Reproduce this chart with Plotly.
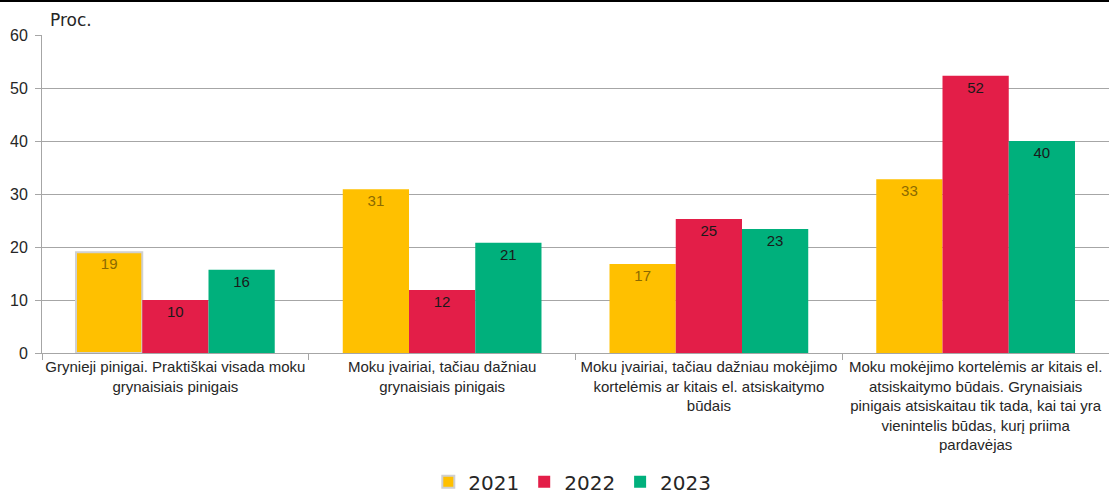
import plotly.graph_objects as go

categories = [
    "Grynieji pinigai. Praktiškai visada moku<br>grynaisiais pinigais",
    "Moku įvairiai, tačiau dažniau<br>grynaisiais pinigais",
    "Moku įvairiai, tačiau dažniau mokėjimo<br>kortelėmis ar kitais el. atsiskaitymo<br>būdais",
    "Moku mokėjimo kortelėmis ar kitais el.<br>atsiskaitymo būdais. Grynaisiais<br>pinigais atsiskaitau tik tada, kai tai yra<br>vienintelis būdas, kurį priima<br>pardavėjas",
]
series_names = ["2021", "2022", "2023"]
values_2021 = [19.0, 30.9, 16.8, 32.8]
values_2022 = [10.0, 11.9, 25.3, 52.3]
values_2023 = [15.7, 20.8, 23.4, 40.0]
y_ticks = [0, 10, 20, 30, 40, 50, 60]

colors = ["#FFC000", "#E31E48", "#00B07C"]
text_colors = ["#8C6A00", "#1a1a1a", "#1a1a1a"]
all_values = [values_2021, values_2022, values_2023]

fig = go.Figure()
for i, (name, vals) in enumerate(zip(series_names, all_values)):
    line_colors = [colors[i]] * len(vals)
    line_widths = [0] * len(vals)
    if i == 0:
        line_colors[0] = "#D0D0D0"
        line_widths[0] = 2
    fig.add_trace(go.Bar(
        name=name, x=categories, y=vals,
        marker=dict(color=colors[i], line=dict(color=line_colors, width=line_widths)),
        texttemplate="%{y:.0f}", textposition="inside", insidetextanchor="end",
        textangle=0,
        textfont=dict(family="Liberation Sans", size=15, color=text_colors[i]),
    ))

fig.update_layout(
    width=1109, height=495,
    margin=dict(l=42, r=0, t=35, b=142, autoexpand=False),
    paper_bgcolor="white", plot_bgcolor="white",
    barmode="group", bargap=0.255, bargroupgap=0,
    showlegend=True,
    legend=dict(orientation="h", x=0.497, xanchor="center", y=-0.405, yanchor="middle",
                font=dict(family="DejaVu Sans", size=20, color="#262626"),
                itemwidth=30, traceorder="normal"),
    font=dict(family="Liberation Sans", size=15, color="#262626"),
    uniformtext=dict(mode="show", minsize=10),
)
fig.update_xaxes(
    automargin=False,
    showline=True, linecolor="#A6A6A6", linewidth=1,
    ticks="outside", tickson="boundaries", ticklen=6, tickcolor="#A6A6A6",
    tickfont=dict(family="Liberation Sans", size=15, color="#262626"),
    tickangle=0,
)
fig.update_yaxes(
    automargin=False,
    range=[0, 60], tickvals=y_ticks, showgrid=True, gridcolor="#A6A6A6", gridwidth=1,
    showline=True, linecolor="#A6A6A6", linewidth=1,
    ticks="outside", ticklen=6, tickcolor="#A6A6A6", ticklabelstandoff=4,
    tickfont=dict(family="Liberation Sans", size=16, color="#262626"),
    zeroline=False,
)
fig.add_annotation(text="Proc.", xref="paper", yref="paper", x=0.006, y=1.047,
                   xanchor="left", yanchor="middle", showarrow=False,
                   font=dict(family="DejaVu Sans", size=17, color="#262626"))
fig.add_shape(type="line", xref="paper", yref="paper", x0=-0.05, x1=1.01,
              y0=1.107, y1=1.107, line=dict(color="black", width=2))

fig.write_html("out.html", config={"displayModeBar": False},
               post_script="document.body.style.margin='0';document.body.style.overflow='hidden';")
